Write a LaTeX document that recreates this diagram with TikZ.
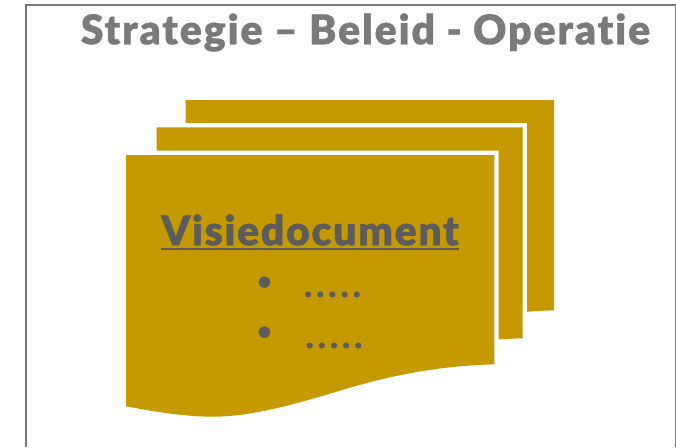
\documentclass[tikz,border=0pt]{standalone}
\usepackage{fontspec}
\setmainfont[Ligatures=NoCommon,BoldFont={Lato Black},BoldFeatures={FakeBold=.8}]{Lato}
\definecolor{sheetgold}{HTML}{C49A00}
\definecolor{titlegray}{HTML}{7A7A7A}
\definecolor{bodygray}{HTML}{5C5C5C}
\tikzset{
   sheet/.style={fill=sheetgold,preaction={draw=white,line width=8.8pt}},
   bodytext/.style={inner sep=0pt,anchor=base,text=bodygray,font=\bfseries\fontsize{23}{23}\selectfont},
   dotstext/.style={bodytext,font=\bfseries\fontsize{32}{32}\selectfont},
   headtext/.style={bodytext,font=\bfseries\fontsize{41}{41}\selectfont\addfontfeatures{LetterSpace=4}},
   titletext/.style={bodytext,text=titlegray,font=\bfseries\fontsize{41}{41}\selectfont\addfontfeatures{LetterSpace=4.6}},
}
\begin{document}
\begin{tikzpicture}[x=1pt,y=-1pt]
   \useasboundingbox (0,0) rectangle (676,447);
   % One sheet, as seen at the front of the stack
   \def\SHEET{(0,0) -- (368.3,0) -- (368.3,209.3) .. controls (310,211) and (262,221) .. (214,235.7)
      .. controls (170,249) and (125,261.7) .. (87,261.7) .. controls (60,261.7) and (30,257) .. (0,251.3) -- cycle}
   \def\DOTGAP{\kern4.5pt}
   % Frame
   \draw [titlegray,line width=2pt] (25.5,447) -- (25.5,5) -- (675.5,5) -- (675.5,447);
   % Title
   \node (title) [titletext] at (365.5,44.3) {Strategie – Beleid - Operatie};
   % Stack of sheets
   \path [sheet,shift={(185.7,100.2)},yscale=1.004] \SHEET;
   \path [sheet,shift={(156.7,127.4)},xscale=.9932,yscale=1.0076] \SHEET;
   \path [sheet,shift={(126,155)}] \SHEET;
   % Text on the front sheet
   \node (visie) [headtext] at (310,245.3) {Visiedocument};
   \draw [bodygray,line width=2pt] ([yshift=-3.4pt]visie.base west) -- ([yshift=-3.4pt]visie.base east);
   \node (bulleta) [bodytext] at (264.5,289) {•};
   \node (bulletb) [bodytext] at (264.5,339) {•};
   \node (dotsa) [dotstext] at (332.5,297) {.\DOTGAP.\DOTGAP.\DOTGAP.\DOTGAP.};
   \node (dotsb) [dotstext] at (334,348) {.\DOTGAP.\DOTGAP.\DOTGAP.\DOTGAP.};
\end{tikzpicture}
\end{document}
